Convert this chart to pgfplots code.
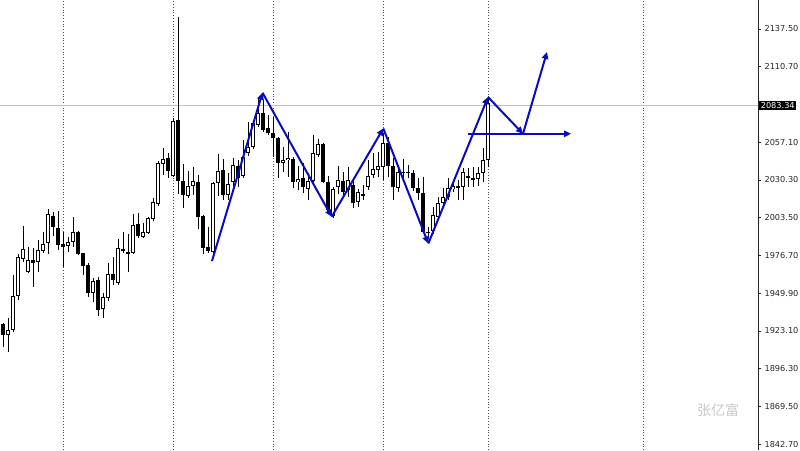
\documentclass[border=0pt]{standalone}
\usepackage{pgfplots}
\pgfplotsset{compat=1.18}
\usepackage{pgfplotstable}
\usepackage{fontspec}
\setmainfont{DejaVu Sans}
\newfontfamily\cjk{Noto Sans CJK SC}
\usetikzlibrary{arrows.meta}
\definecolor{mtblue}{RGB}{10,10,190}

\pgfplotstableread{
i o h l c
0 1928.1 1928.8 1911.7 1920.3
1 1920.3 1932.3 1908.2 1923.8
2 1923.8 1962.9 1922.4 1947.9
3 1947.9 1977.8 1945.1 1975.6
4 1974.2 1997.6 1972.1 1981.3
5 1965.0 1982.7 1964.3 1973.5
6 1973.5 1982.0 1954.3 1971.4
7 1972.1 1987.7 1965.0 1980.6
8 1979.9 1993.4 1978.5 1984.9
9 1985.6 2009.7 1977.8 2006.2
10 2004.7 2007.6 1990.5 1996.9
11 1996.2 2008.3 1980.6 1984.2
12 1984.9 1993.4 1968.5 1982.7
13 1983.4 1989.8 1979.2 1986.3
14 1986.3 2004.0 1982.7 1993.4
15 1993.4 1994.1 1977.1 1977.8
16 1978.5 1978.5 1962.9 1969.2
17 1970.0 1971.4 1947.2 1950.1
18 1950.1 1960.7 1943.7 1958.6
19 1959.3 1961.4 1933.7 1938.0
20 1938.7 1950.1 1932.3 1947.2
21 1946.5 1971.4 1944.4 1963.6
22 1963.6 1975.6 1955.8 1959.3
23 1957.2 1988.4 1955.8 1982.0
24 1980.6 1993.4 1978.5 1981.3
25 1979.2 1992.0 1965.0 1977.8
26 1978.5 2006.2 1977.8 1998.4
27 1999.1 2006.9 1989.1 1990.5
28 1989.8 1999.8 1989.1 1993.4
29 1992.7 2004.0 1992.0 2003.3
30 2002.6 2017.5 2001.2 2014.7
31 2013.3 2043.8 2011.8 2042.4
32 2041.7 2053.0 2033.9 2045.2
33 2045.9 2049.5 2031.7 2036.7
34 2033.1 2074.3 2032.4 2072.2
35 2072.9 2146.0 2020.4 2029.6
36 2029.6 2041.7 2010.4 2019.7
37 2018.9 2036.7 2017.5 2026.0
38 2026.0 2039.5 2019.7 2029.6
39 2028.9 2033.9 1995.5 2004.0
40 2004.7 2005.5 1977.8 1982.0
41 1982.7 1996.9 1978.5 1979.9
42 1979.2 2028.9 1974.9 2028.2
43 2028.2 2048.8 2018.9 2036.7
44 2037.4 2045.2 2016.1 2019.7
45 2019.7 2035.3 2016.1 2027.5
46 2028.9 2045.9 2025.3 2041.0
47 2040.2 2044.5 2025.3 2031.7
48 2033.1 2058.7 2031.7 2046.6
49 2049.5 2071.5 2047.3 2053.7
50 2053.7 2071.5 2052.3 2070.8
51 2069.4 2089.2 2067.9 2077.9
52 2077.9 2087.1 2064.4 2065.8
53 2067.2 2076.5 2062.3 2063.7
54 2063.7 2075.0 2046.6 2060.1
55 2060.1 2060.8 2031.7 2042.4
56 2042.4 2053.7 2036.0 2044.5
57 2044.5 2064.4 2032.4 2045.9
58 2045.2 2046.6 2024.6 2028.9
59 2028.9 2040.2 2023.2 2031.0
60 2031.7 2042.4 2021.1 2025.3
61 2023.9 2035.3 2016.1 2029.6
62 2029.6 2062.3 2028.2 2049.5
63 2048.1 2059.4 2046.6 2055.9
64 2055.9 2056.6 2028.2 2028.9
65 2028.9 2033.1 2006.9 2009.0
66 2004.7 2025.3 2003.3 2023.9
67 2025.3 2040.2 2020.4 2030.3
68 2029.6 2036.0 2018.9 2021.8
69 2023.2 2039.5 2018.2 2030.3
70 2026.8 2031.0 2010.4 2014.0
71 2014.7 2023.9 2011.1 2021.8
72 2020.4 2026.8 2016.1 2018.9
73 2025.3 2044.5 2023.2 2033.1
74 2033.9 2049.5 2031.7 2038.1
75 2037.4 2050.2 2032.4 2040.2
76 2039.5 2063.7 2030.3 2056.6
77 2056.6 2060.8 2032.4 2040.2
78 2040.2 2045.9 2016.1 2025.3
79 2024.6 2041.0 2021.8 2036.0
80 2036.0 2045.2 2028.9 2035.3
81 2036.0 2041.0 2031.7 2035.3
82 2035.3 2037.4 2022.5 2024.6
83 2024.6 2031.7 2016.1 2021.1
84 2021.1 2032.4 1992.7 1993.4
85 1993.4 1996.9 1989.8 1992.7
86 1994.1 2011.1 1992.0 2005.5
87 2004.0 2018.2 2001.9 2014.0
88 2014.0 2024.6 2011.1 2018.2
89 2018.2 2031.7 2016.1 2024.6
90 2023.9 2030.3 2021.8 2026.0
91 2026.0 2030.3 2016.1 2024.6
92 2025.3 2038.8 2016.1 2036.0
93 2033.1 2038.8 2025.3 2032.4
94 2031.7 2039.5 2025.3 2031.0
95 2031.0 2039.5 2026.0 2035.3
96 2035.3 2053.0 2028.9 2044.5
97 2044.5 2089.2 2039.5 2085.0
}\candles

\begin{document}
\begin{tikzpicture}
\begin{axis}[
  scale only axis, width=758pt, height=450pt,
  xmin=-0.6, xmax=151, ymin=1838.6, ymax=2158.1,
  separate axis lines,
  axis x line*=bottom, axis y line*=right,
  x axis line style={draw=none},
  y axis line style={black!85, line width=0.8pt},
  xtick={12,34,54,76,97,128}, xticklabels={}, xtick style={draw=none},
  xmajorgrids,
  major x grid style={black!70, line width=0.6pt, dash pattern=on 0.8pt off 2pt},
  ytick={1842.7,1869.5,1896.3,1923.1,1949.9,1976.7,2003.5,2030.3,2057.1,2110.7,2137.5},
  ytick style={black!85, line width=0.6pt},
  tick align=outside, major tick length=3pt,
  /pgf/number format/.cd, fixed, fixed zerofill, precision=2, 1000 sep={}, assume math mode=true,
  /pgfplots/.cd,
  yticklabel style={font=\fontsize{8.2}{9}\selectfont, text=black!85},
  extra y ticks={2083.34},
  major y grid style={black!25, line width=0.6pt},
  extra y tick style={grid=major, yticklabel style={fill=black, text=white, inner sep=1.6pt, xshift=-2pt}},
]
% wicks
\addplot[mark=none, draw=none, forget plot,
  error bars/.cd, y dir=both, y explicit, error mark=none,
  error bar style={draw=black, line width=0.8pt, solid}]
  table[x=i, y expr={(\thisrow{h}+\thisrow{l})/2}, y error expr={(\thisrow{h}-\thisrow{l})/2}] {\candles};
% bodies (outline / black fill)
\addplot[mark=none, draw=none, forget plot,
  error bars/.cd, y dir=both, y explicit, error mark=none,
  error bar style={draw=black, line width=3.8pt, solid}]
  table[x=i, y expr={(\thisrow{o}+\thisrow{c})/2}, y error expr={max(abs(\thisrow{c}-\thisrow{o})/2,0.4)}] {\candles};
% white interior of rising candles
\addplot[mark=none, draw=none, forget plot,
  error bars/.cd, y dir=both, y explicit, error mark=none,
  error bar style={draw=white, line width=2.0pt, solid}]
  table[x=i, y expr={(\thisrow{o}+\thisrow{c})/2}, y error expr={(\thisrow{c}>\thisrow{o})*max((\thisrow{c}-\thisrow{o})/2-0.64,0)}] {\candles};

% zig-zag arrows
\addplot[mtblue, line width=2pt, -{Triangle[length=7pt,width=6.5pt]}, forget plot] coordinates {(41.8,1972.8) (51.9,2092.3)};
\addplot[mtblue, line width=2pt, -{Triangle[length=7pt,width=6.5pt]}, forget plot] coordinates {(51.9,2092.3) (65.74,2004.2)};
\addplot[mtblue, line width=2pt, -{Triangle[length=7pt,width=6.5pt]}, forget plot] coordinates {(65.74,2004.2) (76.06,2066.9)};
\addplot[mtblue, line width=2pt, -{Triangle[length=7pt,width=6.5pt]}, forget plot] coordinates {(76.06,2066.9) (85.06,1985.2)};
\addplot[mtblue, line width=2pt, -{Triangle[length=7pt,width=6.5pt]}, forget plot] coordinates {(85.06,1985.2) (97.0,2089.2)};
\addplot[mtblue, line width=2pt, -{Triangle[length=7pt,width=6.5pt]}, forget plot] coordinates {(97.0,2089.2) (104.0,2063.1)};
\addplot[mtblue, line width=2pt, -{Triangle[length=7pt,width=6.5pt]}, forget plot] coordinates {(104.0,2063.1) (108.8,2121.2)};
\addplot[mtblue, line width=2pt, -{Triangle[length=7pt,width=6.5pt]}, forget plot] coordinates {(93.0,2063.1) (113.6,2063.1)};

\node[text=black!22, font=\cjk\fontsize{14}{16}\selectfont] at (axis cs:143,1867) {张亿富};
\end{axis}
\pgfresetboundingbox
\path (current axis.south west) rectangle ([xshift=42pt]current axis.north east);
\end{tikzpicture}
\end{document}
